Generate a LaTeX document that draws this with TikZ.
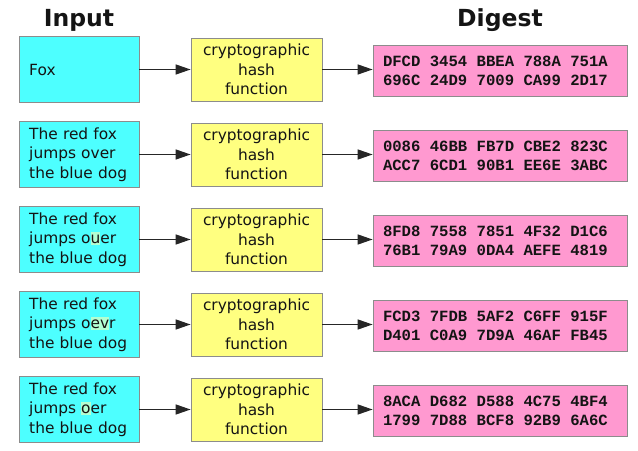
\documentclass[tikz,border=0pt]{standalone}
\usepackage{fontspec}
\setmainfont{DejaVu Sans}
\newfontfamily\monof{Liberation Mono}
\usetikzlibrary{arrows.meta}
\definecolor{incol}{RGB}{77,255,255}
\definecolor{hashcol}{RGB}{255,255,128}
\definecolor{digcol}{RGB}{255,153,208}
\definecolor{bordcol}{RGB}{140,140,140}
\definecolor{txtcol}{RGB}{20,20,20}
\definecolor{hlcol}{RGB}{180,255,210}
\newcommand\hlt[1]{{\setlength\fboxsep{0pt}\colorbox{hlcol}{\rule[-1bp]{0pt}{13bp}#1}}}
\newcommand\gap{\hspace*{9.4bp}}
\begin{document}
\begin{tikzpicture}[x=1bp,y=-1bp,
  every node/.style={text=txtcol},
  inbox/.style={draw=bordcol, fill=incol, line width=0.8bp, minimum width=119.5bp, minimum height=66bp,
    inner xsep=9.5bp, inner ysep=0pt, text width=100bp, align=left,
    font=\fontsize{15.4bp}{19.5bp}\selectfont},
  hashbox/.style={draw=bordcol, fill=hashcol, line width=0.8bp, minimum width=131bp, minimum height=63bp,
    inner sep=0pt, text width=125bp, align=center,
    font=\fontsize{15.4bp}{19.5bp}\selectfont},
  digbox/.style={draw=bordcol, fill=digcol, line width=0.8bp, minimum width=254bp, minimum height=51bp,
    inner xsep=10bp, inner ysep=0pt, text width=234bp, align=left,
    font=\monof\bfseries\fontsize{15.6bp}{19bp}\selectfont},
  titlestyle/.style={font=\bfseries\fontsize{23.5bp}{28bp}\selectfont, inner sep=0pt, anchor=base},
  arr/.style={draw=black!85, line width=1.4bp, -{Triangle[length=15bp,width=10bp]}}
]
\useasboundingbox (0,0) rectangle (638,451);
\node[titlestyle] (tin) at (79,27) {Input};
\node[titlestyle] (tdig) at (500,27) {Digest};

\node[inbox] (in1) at (79.25,69.5) {Fox};
\node[inbox] (in2) at (79.25,154.5) {The red fox\\jumps over\\the blue dog};
\node[inbox] (in3) at (79.25,239.5) {The red fox\\jumps o\hlt{u}er\\the blue dog};
\node[inbox] (in4) at (79.25,324.5) {The red fox\\jumps o\hlt{ev}r\\the blue dog};
\node[inbox] (in5) at (79.25,409.5) {The red fox\\jumps \hlt{o}er\\the blue dog};

\foreach \i/\y in {1/69.5,2/154.5,3/239.5,4/324.5,5/409.5}{
  \node[hashbox] (h\i) at (256.5,\y) {cryptographic\\hash\\function};
}

\node[digbox] (d1) at (500,70.5) {DFCD\gap 3454\gap BBEA\gap 788A\gap 751A\\696C\gap 24D9\gap 7009\gap CA99\gap 2D17};
\node[digbox] (d2) at (500,155.5) {0086\gap 46BB\gap FB7D\gap CBE2\gap 823C\\ACC7\gap 6CD1\gap 90B1\gap EE6E\gap 3ABC};
\node[digbox] (d3) at (500,240.5) {8FD8\gap 7558\gap 7851\gap 4F32\gap D1C6\\76B1\gap 79A9\gap 0DA4\gap AEFE\gap 4819};
\node[digbox] (d4) at (500,325.5) {FCD3\gap 7FDB\gap 5AF2\gap C6FF\gap 915F\\D401\gap C0A9\gap 7D9A\gap 46AF\gap FB45};
\node[digbox] (d5) at (500,410.5) {8ACA\gap D682\gap D588\gap 4C75\gap 4BF4\\1799\gap 7D88\gap BCF8\gap 92B9\gap 6A6C};

\foreach \i in {1,...,5}{
  \draw[arr] (in\i.east) -- (h\i.west);
  \draw[arr] (h\i.east) -- (h\i.east -| d\i.west);
}
\end{tikzpicture}
\end{document}
